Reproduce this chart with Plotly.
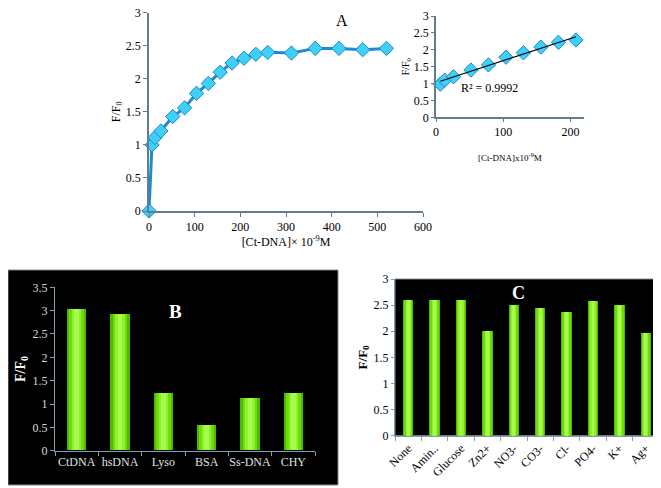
import numpy as np
import plotly.graph_objects as go

# ---------------- Data ----------------
conc = [0, 6.5, 13, 26, 52, 78, 104, 130, 156, 182, 208, 234, 260, 312, 364, 416, 468, 520]
ratio = [0, 1.0, 1.11, 1.21, 1.43, 1.56, 1.78, 1.93, 2.10, 2.24, 2.31, 2.37, 2.40, 2.39, 2.46, 2.46, 2.44, 2.46]

inset_conc = [6.5, 13, 26, 52, 78, 104, 130, 156, 182, 208]
inset_ratio = [0.98, 1.10, 1.20, 1.40, 1.55, 1.78, 1.91, 2.08, 2.22, 2.29]

b_cats = ["CtDNA", "hsDNA", "Lyso", "BSA", "Ss-DNA", "CHY"]
b_vals = [3.02, 2.93, 1.24, 0.54, 1.12, 1.24]

c_cats = ["None", "Amin..", "Glucose", "Zn2+", "NO3-", "CO3-", "Cl-", "PO4-", "K+", "Ag+"]
c_vals = [2.60, 2.60, 2.60, 2.00, 2.50, 2.45, 2.37, 2.58, 2.51, 1.96]

SERIF = "Liberation Serif"
AX = "#5f7f90"

# page body has an 8px margin; figure is sized to fit the window
OFF = 8
W, H = 661 - OFF, 488 - OFF


def fx_(x):
    return max(0.0, (x - OFF) / W)


def fy_(y):
    return min(1.0, 1 - (y - OFF) / H)


fig = go.Figure()

# Panel A main
fig.add_trace(go.Scatter(
    x=conc, y=ratio, mode="lines+markers", xaxis="x", yaxis="y",
    line=dict(color="#1e8ad0", width=3),
    marker=dict(symbol="diamond", size=11, color="#3fd0fa", line=dict(color="#1f86c8", width=1)),
    cliponaxis=False, showlegend=False))

# Inset
fig.add_trace(go.Scatter(
    x=inset_conc, y=inset_ratio, mode="markers", xaxis="x2", yaxis="y2",
    marker=dict(symbol="diamond", size=11, color="#3fd0fa", line=dict(color="#1f86c8", width=1)),
    cliponaxis=False, showlegend=False))
slope, icpt = np.polyfit(inset_conc, inset_ratio, 1)
fitx = np.array([inset_conc[0], inset_conc[-1]])
fig.add_trace(go.Scatter(
    x=fitx, y=slope * fitx + icpt, mode="lines", xaxis="x2", yaxis="y2",
    line=dict(color="black", width=1.2), showlegend=False))


# Bars (layered for a shaded look)
def add_bars(cats, vals, xa, ya, w):
    layers = [(w, "#4fb800"), (w * 0.78, "#6cdc0a"), (w * 0.5, "#8ef22c"), (w * 0.25, "#a8fa50")]
    for width, col in layers:
        fig.add_trace(go.Bar(x=cats, y=vals, xaxis=xa, yaxis=ya, width=width,
                             marker=dict(color=col, line=dict(width=0)), showlegend=False,
                             hoverinfo="x+y"))


add_bars(b_cats, b_vals, "x3", "y3", 0.44)
add_bars(c_cats, c_vals, "x4", "y4", 0.40)

tickf = dict(family=SERIF, size=12, color="black")
common = dict(showgrid=False, automargin=False, ticklabeloverflow="allow")

fig.update_layout(
    width=W, height=H, margin=dict(l=0, r=0, t=0, b=0),
    paper_bgcolor="white", plot_bgcolor="rgba(0,0,0,0)",
    barmode="overlay", bargap=0,
    font=dict(family=SERIF, color="black"),
    xaxis=dict(domain=[fx_(149), fx_(423)], range=[0, 600], dtick=100, zeroline=False,
               showline=True, linecolor=AX, linewidth=1.5, ticks="outside", ticklen=4, tickcolor=AX,
               tickfont=tickf, anchor="y", **common,
               title=dict(text="[Ct-DNA]× 10<sup>-9</sup>M", font=dict(family=SERIF, size=12), standoff=2)),
    yaxis=dict(domain=[fy_(211), fy_(12.7)], range=[0, 3], dtick=0.5, zeroline=False,
               showline=True, linecolor=AX, linewidth=1.5, ticks="outside", ticklen=4, tickcolor=AX,
               tickfont=tickf, anchor="x", **common,
               title=dict(text="F/F<sub>0</sub>", font=dict(family=SERIF, size=12), standoff=3)),
    xaxis2=dict(domain=[fx_(436), fx_(584)], range=[0, 220], tickvals=[0, 100, 200],
                zeroline=False, showline=True, linecolor=AX, linewidth=1.5, ticks="outside", ticklen=3,
                tickcolor=AX, tickfont=tickf, anchor="y2", **common,
                title=dict(text="[Ct-DNA]x10<sup>-9</sup>M", font=dict(family=SERIF, size=9), standoff=16)),
    yaxis2=dict(domain=[fy_(117.3), fy_(16)], range=[0, 3], dtick=0.5, zeroline=False,
                showline=True, linecolor=AX, linewidth=1.5, ticks="outside", ticklen=3, tickcolor=AX,
                tickfont=tickf, anchor="x2", **common,
                title=dict(text="F/F<sub>0</sub>", font=dict(family=SERIF, size=10), standoff=2)),
    xaxis3=dict(domain=[fx_(55), fx_(315)], type="category", range=[-0.5, 5.5],
                showline=True, linecolor="#7f9fb0", linewidth=1, ticks="outside", tickson="boundaries",
                ticklen=4, tickcolor="#7f9fb0", tickangle=0,
                tickfont=dict(family=SERIF, size=12, color="#e0e0e0"), anchor="y3", **common),
    yaxis3=dict(domain=[fy_(450.7), fy_(287.3)], range=[0, 3.5], dtick=0.5, zeroline=False,
                showline=True, linecolor="#7f9fb0", linewidth=1, ticks="outside", ticklen=4,
                tickcolor="#7f9fb0", tickfont=dict(family=SERIF, size=12, color="#d8d8d8"), anchor="x3",
                **common,
                title=dict(text="<b>F/F<sub>0</sub></b>", font=dict(family=SERIF, size=14, color="white"),
                           standoff=3)),
    xaxis4=dict(domain=[fx_(395), fx_(659)], type="category", range=[-0.5, 9.5],
                showline=True, linecolor="#7f9fb0", linewidth=1, ticks="outside", tickson="boundaries",
                ticklen=4, tickcolor="#7f9fb0", tickangle=-45,
                tickfont=dict(family=SERIF, size=12, color="black"), anchor="y4", **common),
    yaxis4=dict(domain=[fy_(435.7), fy_(279)], range=[0, 3], dtick=0.5, zeroline=False,
                showline=True, linecolor="#7f9fb0", linewidth=1, ticks="outside", ticklen=3,
                tickcolor="#7f9fb0", tickfont=dict(family=SERIF, size=12, color="black"), anchor="x4",
                mirror=True, **common,
                title=dict(text="<b>F/F<sub>0</sub></b>", font=dict(family=SERIF, size=13, color="black"),
                           standoff=3)),
    shapes=[
        dict(type="rect", xref="paper", yref="paper", x0=fx_(2), x1=fx_(338),
             y0=fy_(485), y1=fy_(270), fillcolor="black",
             line=dict(color="#888888", width=1), layer="below"),
        dict(type="rect", xref="x4 domain", yref="y4 domain", x0=0, x1=1, y0=0, y1=1,
             fillcolor="black", line=dict(color="#888888", width=1), layer="below"),
    ],
    annotations=[
        dict(text="A", x=fx_(342), y=fy_(10), xref="paper", yref="paper", showarrow=False,
             font=dict(family=SERIF, size=16, color="black")),
        dict(text="R² = 0.9992", x=fx_(520), y=fy_(79), xref="paper", yref="paper",
             showarrow=False, font=dict(family=SERIF, size=12, color="black")),
        dict(text="<b>B</b>", x=fx_(167), y=fy_(311), xref="paper", yref="paper",
             showarrow=False, font=dict(family=SERIF, size=19, color="white")),
        dict(text="<b>C</b>", x=fx_(527), y=fy_(293), xref="paper", yref="paper",
             showarrow=False, font=dict(family=SERIF, size=18, color="white")),
    ],
)

fig.write_html("out.html")
